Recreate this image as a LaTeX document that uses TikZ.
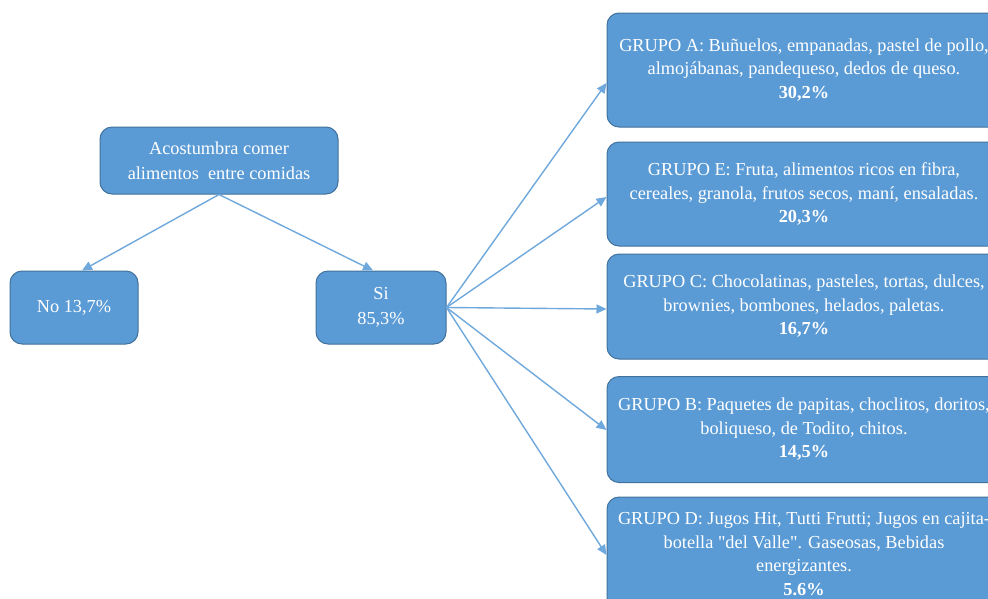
\documentclass[tikz,border=0pt]{standalone}
\usepackage{fontspec}
\setmainfont{Liberation Serif}[Ligatures=TeXOff]
\usetikzlibrary{arrows.meta}
\definecolor{boxfill}{HTML}{5B9BD5}
\definecolor{boxline}{HTML}{41719C}
\definecolor{arrowc}{HTML}{6FA8DC}
\tikzset{
  box/.style={draw=boxline, line width=1pt, fill=boxfill, rounded corners=12pt, text=white, align=center, inner sep=0pt, font=\fontsize{18.3}{23.5}\selectfont},
  smallbox/.style={box, font=\fontsize{18.3}{25}\selectfont},
  conn/.style={draw=arrowc, line width=1.4pt, -{Triangle[length=10pt,width=9pt]}}
}
\begin{document}
\begin{tikzpicture}[x=1pt,y=-1pt]
\useasboundingbox (0,0) rectangle (988,598);
\clip (0,0) rectangle (988,598);
\node[smallbox, minimum width=238pt, minimum height=67pt] (top) at (219,160.5) {Acostumbra comer\\alimentos\ \ entre comidas};
\node[smallbox, minimum width=128pt, minimum height=73pt] (no) at (74,307.5) {No 13,7\%};
\node[smallbox, minimum width=130pt, minimum height=73pt] (si) at (381,307.5) {Si\\85,3\%};
\node[box, minimum width=394pt, minimum height=114pt] (A) at (804,70) {GRUPO A: Buñuelos, empanadas, pastel de pollo,\\almojábanas, pandequeso, dedos de queso.\\\textbf{30,2\%}};
\node[box, minimum width=394pt, minimum height=104pt] (E) at (804,194) {GRUPO E: Fruta, alimentos ricos en fibra,\\cereales, granola, frutos secos, maní, ensaladas.\\\textbf{20,3\%}};
\node[box, minimum width=394pt, minimum height=105pt] (C) at (804,306.5) {GRUPO C: Chocolatinas, pasteles, tortas, dulces,\\brownies, bombones, helados, paletas.\\\textbf{16,7\%}};
\node[box, minimum width=394pt, minimum height=106pt] (B) at (804,429.5) {GRUPO B: Paquetes de papitas, choclitos, doritos,\\boliqueso, de Todito, chitos.\\\textbf{14,5\%}};
\node[box, minimum width=394pt, minimum height=114pt] (D) at (804,554) {GRUPO D: Jugos Hit, Tutti Frutti; Jugos en cajita-\\botella "del Valle". Gaseosas, Bebidas\\energizantes.\\\textbf{5.6\%}};
\draw[conn] (top.south) -- ([xshift=8pt]no.north);
\draw[conn] (top.south) -- ([xshift=-8pt]si.north);
\draw[conn] (si.east) -- ([yshift=-13pt]A.west);
\draw[conn] (si.east) -- ([yshift=-3pt]E.west);
\draw[conn] (si.east) -- ([yshift=-2.5pt]C.west);
\draw[conn] (si.east) -- ([yshift=-0.5pt]B.west);
\draw[conn] (si.east) -- ([yshift=-1pt]D.west);
\end{tikzpicture}
\end{document}
